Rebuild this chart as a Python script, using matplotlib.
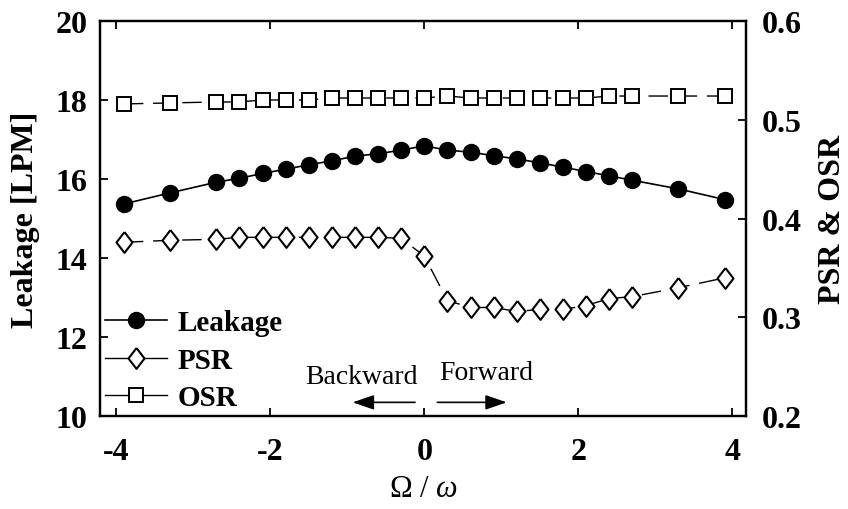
import matplotlib
matplotlib.use("Agg")
import matplotlib.pyplot as plt
from matplotlib.lines import Line2D

plt.rcParams["font.family"] = ["Liberation Serif", "DejaVu Serif"]
plt.rcParams["mathtext.fontset"] = "custom"
plt.rcParams["mathtext.rm"] = "Liberation Serif"
plt.rcParams["mathtext.it"] = "Liberation Serif:italic"
plt.rcParams["axes.unicode_minus"] = False

# Data
ratio = [-3.9, -3.3, -2.7, -2.4, -2.1, -1.8, -1.5, -1.2, -0.9, -0.6, -0.3, 0.0,
         0.3, 0.6, 0.9, 1.2, 1.5, 1.8, 2.1, 2.4, 2.7, 3.3, 3.9]
leakage = [15.37, 15.65, 15.92, 16.02, 16.14, 16.25, 16.36, 16.46, 16.58, 16.64, 16.73, 16.84,
           16.73, 16.68, 16.59, 16.51, 16.41, 16.30, 16.19, 16.08, 15.97, 15.75, 15.48]
psr = [0.376, 0.378, 0.379, 0.381, 0.381, 0.381, 0.381, 0.381, 0.381, 0.381, 0.380, 0.362,
       0.317, 0.310, 0.310, 0.306, 0.308, 0.308, 0.312, 0.319, 0.321, 0.330, 0.340]
osr = [0.516, 0.517, 0.518, 0.518, 0.520, 0.520, 0.520, 0.522, 0.522, 0.522, 0.522, 0.522,
       0.524, 0.522, 0.522, 0.522, 0.522, 0.522, 0.522, 0.524, 0.524, 0.524, 0.524]

x_ticks = [-4, -2, 0, 2, 4]
left_ticks = [10, 12, 14, 16, 18, 20]
right_ticks = [0.2, 0.3, 0.4, 0.5, 0.6]

diamond = [(0, 1.3), (1, 0), (0, -1.3), (-1, 0), (0, 1.3)]
dash = (0, (14, 7))

fig = plt.figure(figsize=(8.48, 5.10), dpi=100)
ax = fig.add_axes([0.118, 0.182, 0.762, 0.775])
ax2 = ax.twinx()

ax.plot(ratio, leakage, "-", color="black", lw=1.2, marker="o", ms=11.5,
        mfc="black", mec="black")
ax2.plot(ratio, psr, color="black", lw=1.0, ls=dash, marker=diamond, ms=15,
         mfc="white", mec="black", mew=1.5)
ax2.plot(ratio, osr, color="black", lw=1.0, ls=dash, marker="s", ms=9.5,
         mfc="white", mec="black", mew=1.4)

ax.set_xlim(-4.21, 4.18)
ax.set_ylim(10, 20)
ax2.set_ylim(0.2, 0.6)
ax.set_xticks(x_ticks)
ax.set_xticklabels([str(v) for v in x_ticks])
ax.set_yticks(left_ticks)
ax2.set_yticks(right_ticks)
ax2.set_yticklabels([f"{v:.1f}" for v in right_ticks])

for a in (ax, ax2):
    for s in a.spines.values():
        s.set_linewidth(1.6)
ax.tick_params(axis="x", direction="in", length=6, width=1.3, top=True,
               labelsize=23, pad=15)
ax.tick_params(axis="y", direction="in", length=6, width=1.3, labelsize=23, pad=9)
ax2.tick_params(axis="y", direction="in", length=6, width=1.3, labelsize=23, pad=11)
for lab in ax.get_xticklabels() + ax.get_yticklabels() + ax2.get_yticklabels():
    lab.set_fontweight("bold")

ax.set_ylabel("Leakage [LPM]", fontsize=23, fontweight="bold", labelpad=11)
ax2.set_ylabel("PSR & OSR", fontsize=23, fontweight="bold", labelpad=12)
ax.set_xlabel(r"$\Omega$ / $\mathit{\omega}$", fontsize=22, labelpad=6)

# direction annotations
head = "-|>,head_length=1.3,head_width=0.45"
ax.annotate("", xy=(-0.93, 10.35), xytext=(-0.12, 10.35),
            arrowprops=dict(arrowstyle=head, color="black", lw=1.2,
                            shrinkA=0, shrinkB=0))
ax.annotate("", xy=(1.07, 10.35), xytext=(0.17, 10.35),
            arrowprops=dict(arrowstyle=head, color="black", lw=1.2,
                            shrinkA=0, shrinkB=0))
ax.text(-0.82, 11.0, "Backward", fontsize=20, ha="center", va="center")
ax.text(0.80, 11.1, "Forward", fontsize=20, ha="center", va="center")

handles = [
    Line2D([], [], color="black", lw=1.2, marker="o", ms=11.5, mfc="black"),
    Line2D([], [], color="black", lw=1.0, marker=diamond, ms=15, mfc="white", mew=1.5),
    Line2D([], [], color="black", lw=1.0, marker="s", ms=9.5, mfc="white", mew=1.4),
]
ax2.legend(handles, ["Leakage", "PSR", "OSR"], loc="lower left",
           bbox_to_anchor=(0.007, 0.012), frameon=False, borderpad=0, borderaxespad=0,
           handlelength=2.15, handletextpad=0.35, labelspacing=0.36,
           prop={"weight": "bold", "size": 21})

fig.savefig("out.png", dpi=100)
